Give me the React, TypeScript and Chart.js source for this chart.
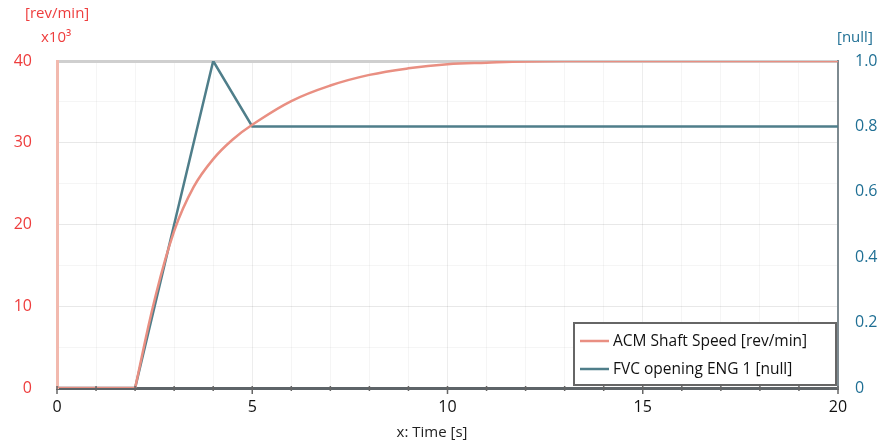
import React, { useEffect, useRef } from "react";
import { Chart, registerables } from "chart.js";

Chart.register(...registerables);

// Time axis [s]
const speedTime = [0, 2, 2.5, 3, 3.5, 4, 4.5, 5, 6, 7, 8, 9, 10, 11, 12, 14, 20];
// ACM Shaft Speed in x10^3 rev/min
const speedValues = [0, 0, 10.8, 19.2, 24.6, 28.0, 30.4, 32.2, 35.1, 37.0, 38.3, 39.1, 39.6, 39.8, 39.95, 40, 40];
// FVC opening ENG 1 [null]
const fvcTime = [0, 2, 4, 5, 20];
const fvcValues = [0, 0, 1.0, 0.8, 0.8];

const seriesLabels = ["ACM Shaft Speed [rev/min]", "FVC opening ENG 1 [null]"];
const leftTicks = [0, 10, 20, 30, 40];
const rightTicks = [0, 0.2, 0.4, 0.6, 0.8, 1.0];
const xTicks = [0, 5, 10, 15, 20];

const FONT = "'Open Sans', 'Noto Sans', sans-serif";
const RED = "#ee3d3d";
const TEAL = "#1f6f94";
const SPEED_COLOR = "#e98f82";
const FVC_COLOR = "#4f7e8a";

const speedPoints = speedTime.map((t, i) => ({ x: t, y: speedValues[i] }));
// index where the shaft starts to spin (flat before, smooth curve after)
const startIdx = speedValues.findIndex((v, i) => i > 0 && v > 0) - 1;

const overlayPlugin = {
  id: "overlay",
  afterDraw(chart: any) {
    const ctx = chart.ctx as CanvasRenderingContext2D;
    const area = chart.chartArea;
    const xs = chart.scales.x;
    ctx.save();
    // minor tick marks on x axis
    ctx.strokeStyle = "#666";
    ctx.lineWidth = 1.5;
    for (let t = 0; t <= 20; t++) {
      const px = xs.getPixelForValue(t);
      ctx.beginPath();
      ctx.moveTo(px, area.bottom - 2);
      ctx.lineTo(px, area.bottom + (t % 5 === 0 ? 6 : 3));
      ctx.stroke();
    }
    // axis unit titles
    ctx.font = `15px ${FONT}`;
    ctx.textBaseline = "middle";
    ctx.textAlign = "left";
    ctx.fillStyle = RED;
    ctx.fillText("[rev/min]", 17, 6);
    ctx.fillText("x10³", 33, 30);
    ctx.fillStyle = TEAL;
    ctx.fillText("[null]", 829, 30);
    ctx.fillStyle = "#222";
    ctx.textAlign = "center";
    ctx.fillText("x: Time [s]", 424, 425);

    // legend box
    const bx = 566, by = 315, bw = 262, bh = 62;
    ctx.fillStyle = "#fff";
    ctx.fillRect(bx, by, bw, bh);
    ctx.strokeStyle = "#666";
    ctx.lineWidth = 2;
    ctx.strokeRect(bx, by, bw, bh);
    const colors = [SPEED_COLOR, FVC_COLOR];
    seriesLabels.forEach((label, i) => {
      const y = by + 18 + i * 28;
      ctx.strokeStyle = colors[i];
      ctx.lineWidth = 2.5;
      ctx.beginPath();
      ctx.moveTo(bx + 6, y);
      ctx.lineTo(bx + 35, y);
      ctx.stroke();
      ctx.fillStyle = "#111";
      ctx.textAlign = "left";
      ctx.font = `15.5px ${FONT}`;
      ctx.fillText(label, bx + 39, y + 1);
    });
    ctx.restore();
  },
};

export default function App() {
  const ref = useRef<HTMLCanvasElement | null>(null);
  useEffect(() => {
    if (!ref.current) return;
    const chart = new Chart(ref.current, {
      type: "line",
      data: {
        datasets: [
          {
            label: seriesLabels[0] + " (idle)",
            data: speedPoints.slice(0, startIdx + 1),
            borderColor: SPEED_COLOR,
            borderWidth: 2.5,
            pointRadius: 0,
            tension: 0,
            yAxisID: "y",
          },
          {
            label: seriesLabels[0],
            data: speedPoints.slice(startIdx),
            borderColor: SPEED_COLOR,
            borderWidth: 2.5,
            pointRadius: 0,
            tension: 0.4,
            yAxisID: "y",
          },
          {
            label: seriesLabels[1],
            data: fvcTime.map((t, i) => ({ x: t, y: fvcValues[i] })),
            borderColor: FVC_COLOR,
            borderWidth: 2.5,
            pointRadius: 0,
            tension: 0,
            yAxisID: "y1",
          },
        ],
      },
      plugins: [overlayPlugin],
      options: {
        animation: false,
        responsive: false,
        maintainAspectRatio: false,
        layout: { padding: { top: 53, left: 0, right: 0, bottom: 0 } },
        plugins: { legend: { display: false }, tooltip: { enabled: false } },
        scales: {
          x: {
            type: "linear",
            min: 0,
            max: 20,
            afterFit: (s: any) => { s.height = 60; },
            afterBuildTicks: (s: any) => {
              const arr = [];
              for (let t = 0; t <= 20; t++) arr.push({ value: t });
              s.ticks = arr;
            },
            ticks: {
              autoSkip: false,
              maxRotation: 0,
              padding: 10,
              color: "#111",
              font: { family: FONT, size: 16 },
              callback: (v: any) => (xTicks.includes(v) ? String(v) : ""),
            },
            grid: {
              drawTicks: false,
              color: (c: any) => (c.tick && c.tick.value % 5 === 0 ? "rgba(0,0,0,0.07)" : "rgba(0,0,0,0.04)"),
              lineWidth: 1,
            },
            border: { display: true, color: "#5e6468", width: 3 },
          },
          y: {
            type: "linear",
            position: "left",
            min: 0,
            max: 40,
            afterFit: (s: any) => { s.width = 49; },
            afterBuildTicks: (s: any) => {
              const arr = [];
              for (let v = 0; v <= 40; v += 5) arr.push({ value: v });
              s.ticks = arr;
            },
            ticks: {
              padding: 25,
              color: RED,
              font: { family: FONT, size: 16 },
              callback: (v: any) => (leftTicks.includes(v) ? String(v) : ""),
            },
            grid: {
              drawTicks: false,
              color: (c: any) => {
                const v = c.tick ? c.tick.value : 0;
                if (v === 40) return "#cfcfcf";
                return v % 10 === 0 ? "rgba(0,0,0,0.09)" : "rgba(0,0,0,0.04)";
              },
              lineWidth: (c: any) => (c.tick && c.tick.value === 40 ? 3 : 1),
            },
            border: { display: true, color: "#f2b9ae", width: 3 },
          },
          y1: {
            type: "linear",
            position: "right",
            min: 0,
            max: 1,
            afterFit: (s: any) => { s.width = 44; },
            afterBuildTicks: (s: any) => {
              s.ticks = rightTicks.map((v) => ({ value: v }));
            },
            ticks: {
              padding: 17,
              color: TEAL,
              font: { family: FONT, size: 16 },
              callback: (v: any) => (v === 0 ? "0" : Number(v).toFixed(1)),
            },
            grid: { display: false, drawTicks: false },
            border: { display: true, color: "#7d8a90", width: 2 },
          },
        },
      },
    } as any);
    return () => chart.destroy();
  }, []);
  return (
    <div style={{ position: "relative", width: 874, height: 440 }}>
      <canvas ref={ref} width={874} height={440} style={{ display: "block", width: 874, height: 440 }} />
    </div>
  );
}
